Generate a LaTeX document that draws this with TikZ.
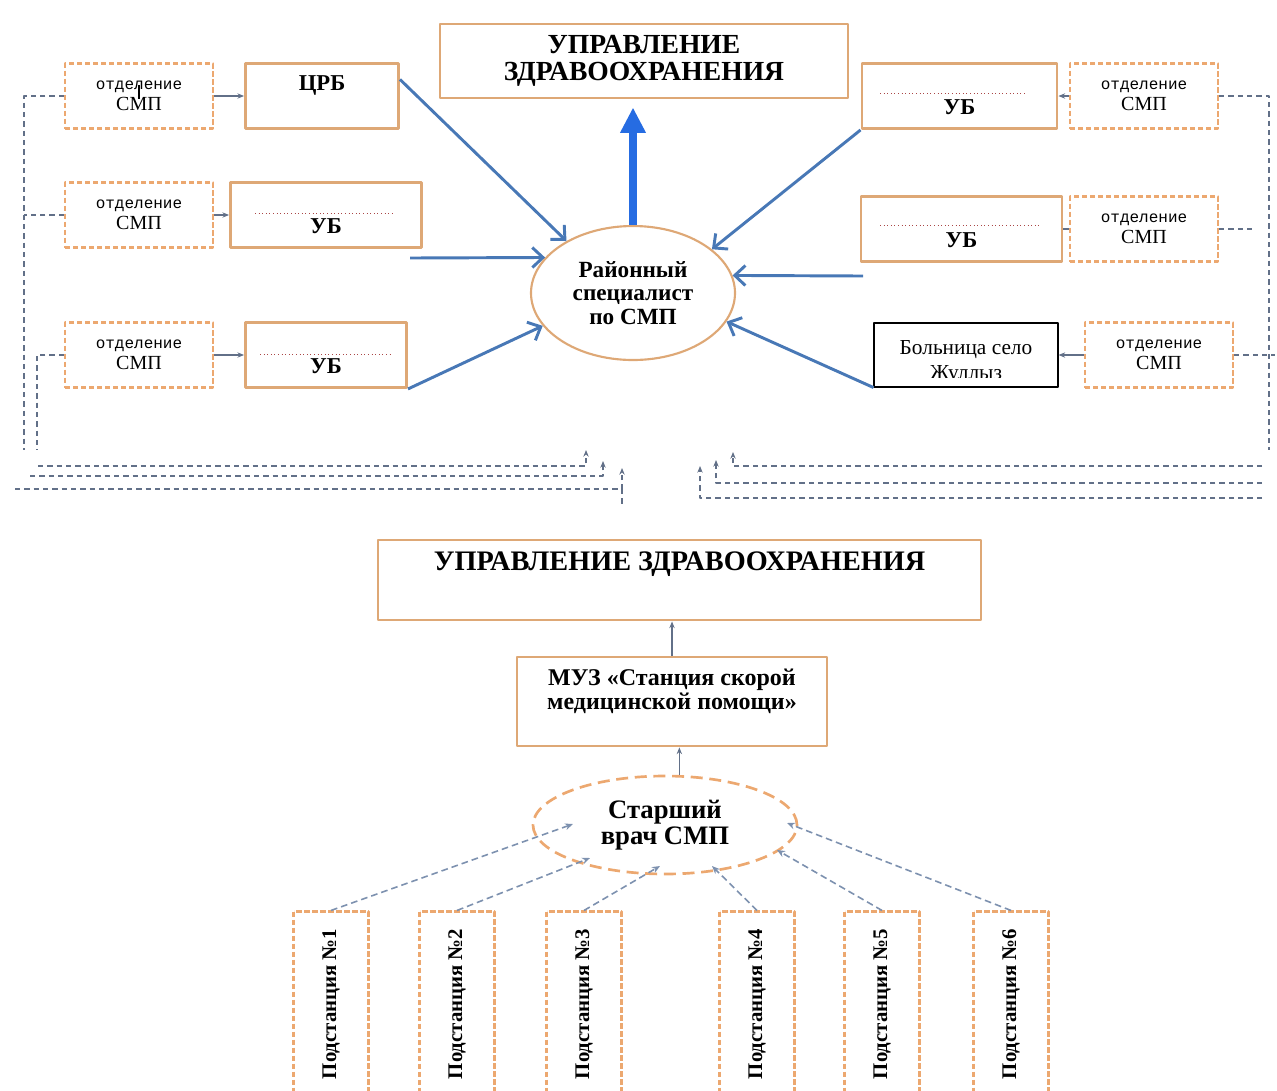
\documentclass[tikz,border=0pt]{standalone}
\usepackage{fontspec}
\setmainfont{Liberation Serif}
\newfontfamily\smpmono{Liberation Mono}
\usepackage{tikz}
\usetikzlibrary{arrows.meta,shapes}
\definecolor{boxtan}{RGB}{222,168,118}
\definecolor{dashorange}{RGB}{236,168,112}
\definecolor{arrowblue}{RGB}{72,120,182}
\definecolor{bigblue}{RGB}{38,108,226}
\definecolor{linkgray}{RGB}{98,112,136}
\definecolor{stationgray}{RGB}{125,145,175}
\definecolor{dotred}{RGB}{170,70,70}

\begin{document}
\begin{tikzpicture}[x=0.75pt,y=-0.75pt,line join=bevel,
  solidbox/.style={draw=boxtan,line width=2.2pt,inner sep=2pt},
  smpbox/.style={draw=dashorange,line width=1.6pt,dash pattern=on 4pt off 2pt,
                  minimum width=111pt,minimum height=48.75pt,align=center,
                  font=\fontsize{12}{16}\selectfont},
  ubbox/.style={solidbox,minimum height=48.75pt,text height=28pt,text depth=0pt,
                font=\bfseries\fontsize{17}{17}\selectfont},
  substation/.style={draw=dashorange,line width=1.6pt,dash pattern=on 4pt off 2pt,
                     rotate=90,minimum width=138.75pt,minimum height=56.25pt,
                     font=\bfseries\fontsize{15.6}{15.6}\selectfont},
  feed/.style={draw=arrowblue,line width=2.2pt,-{Straight Barb[length=8pt,width=15pt]}},
  upward/.style={draw=bigblue,line width=6pt,-{Triangle[length=19pt,width=18pt]}},
  link/.style={draw=linkgray,line width=0.8pt,-{Stealth[length=5pt,width=4pt]}},
  dashlink/.style={draw=linkgray,line width=0.8pt,dash pattern=on 4pt off 3pt},
  stationlink/.style={draw=stationgray,line width=1.2pt,dash pattern=on 5pt off 3pt,
                      -{Stealth[length=6pt,width=5pt]}},
  dotline/.style={draw=dotred,line width=0.7pt,dotted},
  ]
\useasboundingbox (0,0) rectangle (1277,1090);
%%
%% upper scheme
  \node (uz1) at (644,61) [solidbox,align=center,minimum width=306pt,minimum height=55.5pt,
        font=\bfseries\fontsize{20.7}{20.5}\selectfont] {УПРАВЛЕНИЕ\\ЗДРАВООХРАНЕНИЯ};
  \node (rs) at (633,293) [ellipse,draw=boxtan,line width=1.6pt,minimum width=153pt,
        minimum height=100.5pt,align=center,
        font=\bfseries\fontsize{17.4}{17.6}\selectfont] {Районный\\специалист\\по СМП};

  \node (smp1) at (139,96)  [smpbox] {{\smpmono отделение}\\{\fontsize{15}{16}\selectfont СМП}};
  \node (smp2) at (139,215) [smpbox] {{\smpmono отделение}\\{\fontsize{15}{16}\selectfont СМП}};
  \node (smp3) at (139,355) [smpbox] {{\smpmono отделение}\\{\fontsize{15}{16}\selectfont СМП}};
  \node (smp4) at (1144,96)  [smpbox] {{\smpmono отделение}\\{\fontsize{15}{16}\selectfont СМП}};
  \node (smp5) at (1144,229) [smpbox] {{\smpmono отделение}\\{\fontsize{15}{16}\selectfont СМП}};
  \node (smp6) at (1159,355) [smpbox] {{\smpmono отделение}\\{\fontsize{15}{16}\selectfont СМП}};

  \node (crb) at (322,96) [solidbox,minimum width=114.75pt,minimum height=48.75pt,
        text height=12pt,text depth=20pt,font=\bfseries\fontsize{17}{17}\selectfont] {ЦРБ};
  \node (ub2) at (326,215)   [ubbox,minimum width=143.25pt] {УБ};
  \node (ub3) at (326,355)   [ubbox,minimum width=120.75pt] {УБ};
  \node (ub4) at (959.5,96)  [ubbox,minimum width=146.25pt] {УБ};
  \node (ub5) at (961.5,229) [ubbox,minimum width=150.75pt] {УБ};
  \node (hosp) at (966,355) [draw=black,line width=0.8pt,minimum width=138pt,minimum height=48pt] {};
\begin{scope}
  \clip (874,323) rectangle (1058,377);
  \node (hosptext) at (966,340) [anchor=north,inner sep=0pt,align=center,
        font=\fontsize{16}{19}\selectfont] {Больница село\\Жуллыз};
\end{scope}

  \draw [dotline] (255,213) -- (393,213);
  \draw [dotline] (260,354) -- (390,354);
  \draw [dotline] (880,93) -- (1025,93);
  \draw [dotline] (880,225) -- (1040,225);
  \draw [line width=1.3pt] (139,85) -- (139,99);

  \draw [upward] (rs.north) -- ([yshift=-6pt]rs.north |- uz1.south);
  \coordinate (ca) at (410,258);
  \coordinate (cb) at (863,276);
  \draw [feed] (crb.12) -- (rs.142);
  \draw [feed] (ca) -- (rs.158);
  \draw [feed] (ub3.south east) -- (rs.200);
  \draw [feed] (ub4.south west) -- (rs.29);
  \draw [feed] (cb) -- (rs.10);
  \draw [feed] (hosp.south west) -- (rs.-17);

  \draw [link] (smp1.east) -- (crb.west);
  \draw [link] (smp2.east) -- (ub2.west);
  \draw [link] (smp3.east) -- (ub3.west);
  \draw [link] (smp4.west) -- (ub4.east);
  \draw [draw=linkgray,line width=0.8pt] (smp5.west) -- (ub5.east);
  \draw [link] (smp6.west) -- (hosp.east);

%% dashed links to the lower scheme
  \coordinate (lc1) at (24,96);   \coordinate (lc1b) at (24,450);
  \coordinate (lc2) at (24,215);
  \coordinate (lc3) at (37,355);  \coordinate (lc3b) at (37,450);
  \coordinate (rc1) at (1269,96); \coordinate (rc1b) at (1269,450);
  \coordinate (rc2) at (1252,229);
  \coordinate (rc3) at (1275,355);
  \draw [dashlink] (smp1.west) -- (lc1) -- (lc1b);
  \draw [dashlink] (smp2.west) -- (lc2);
  \draw [dashlink] (smp3.west) -- (lc3) -- (lc3b);
  \draw [dashlink] (smp4.east) -- (rc1) -- (rc1b);
  \draw [dashlink] (smp5.east) -- (rc2);
  \draw [dashlink] (smp6.east) -- (rc3);

  \coordinate (bl1) at (38,466);  \coordinate (bl1e) at (586,466);  \coordinate (bl1t) at (586,450);
  \coordinate (bl2) at (30,476);  \coordinate (bl2e) at (603,476);  \coordinate (bl2t) at (603,461);
  \coordinate (bl3) at (15,489);  \coordinate (bl3e) at (622,489);  \coordinate (bl3t) at (622,468);
  \coordinate (bl3d) at (622,505);
  \coordinate (br1) at (1262,466); \coordinate (br1e) at (733,466); \coordinate (br1t) at (733,452);
  \coordinate (br2) at (1262,483); \coordinate (br2e) at (716,483); \coordinate (br2t) at (716,460);
  \coordinate (br3) at (1262,498); \coordinate (br3e) at (700,498); \coordinate (br3t) at (700,466);
  \draw [dashlink,-{Stealth[length=5pt,width=4pt]}] (bl1) -- (bl1e) -- (bl1t);
  \draw [dashlink,-{Stealth[length=5pt,width=4pt]}] (bl2) -- (bl2e) -- (bl2t);
  \draw [dashlink,-{Stealth[length=5pt,width=4pt]}] (bl3) -- (bl3e) -- (bl3t);
  \draw [dashlink] (bl3e) -- (bl3d);
  \draw [dashlink,-{Stealth[length=5pt,width=4pt]}] (br1) -- (br1e) -- (br1t);
  \draw [dashlink,-{Stealth[length=5pt,width=4pt]}] (br2) -- (br2e) -- (br2t);
  \draw [dashlink,-{Stealth[length=5pt,width=4pt]}] (br3) -- (br3e) -- (br3t);

%% lower scheme
  \node (uz2) at (679.5,580) [solidbox,minimum width=452.25pt,minimum height=60pt,
        text height=14pt,text depth=28pt,font=\bfseries\fontsize{21.2}{21}\selectfont]
        {УПРАВЛЕНИЕ ЗДРАВООХРАНЕНИЯ};
  \node (muz) at (672,701.5) [solidbox,minimum width=232.5pt,minimum height=66.75pt,align=center,
        font=\bfseries\fontsize{18}{18}\selectfont] {МУЗ «Станция скорой\\медицинской помощи»\\~};
  \node (sv) at (665,825) [ellipse,draw=dashorange,line width=2pt,dash pattern=on 9pt off 5pt,
        minimum width=198pt,minimum height=73.5pt,align=center,
        font=\bfseries\fontsize{20}{19}\selectfont] {Старший\\врач СМП};
  \draw [link] (muz.north) -- (muz.north |- uz2.south);
  \draw [link] (sv.74) -- (sv.74 |- muz.south);

  \node (ps1) at (331,1004)  [substation] {Подстанция №1};
  \node (ps2) at (457,1004)  [substation] {Подстанция №2};
  \node (ps3) at (584,1004)  [substation] {Подстанция №3};
  \node (ps4) at (757,1004)  [substation] {Подстанция №4};
  \node (ps5) at (882,1004)  [substation] {Подстанция №5};
  \node (ps6) at (1011,1004) [substation] {Подстанция №6};

  \coordinate (t1) at (573,824);
  \coordinate (t2) at (590,858);
  \coordinate (t3) at (660,866);
  \coordinate (t4) at (712,866);
  \coordinate (t5) at (777,850);
  \coordinate (t6) at (787,823);
  \draw [stationlink] (ps1.east) -- (t1);
  \draw [stationlink] (ps2.east) -- (t2);
  \draw [stationlink] (ps3.east) -- (t3);
  \draw [stationlink] (ps4.east) -- (t4);
  \draw [stationlink] (ps5.east) -- (t5);
  \draw [stationlink] (ps6.east) -- (t6);
%
\end{tikzpicture}
\end{document}
